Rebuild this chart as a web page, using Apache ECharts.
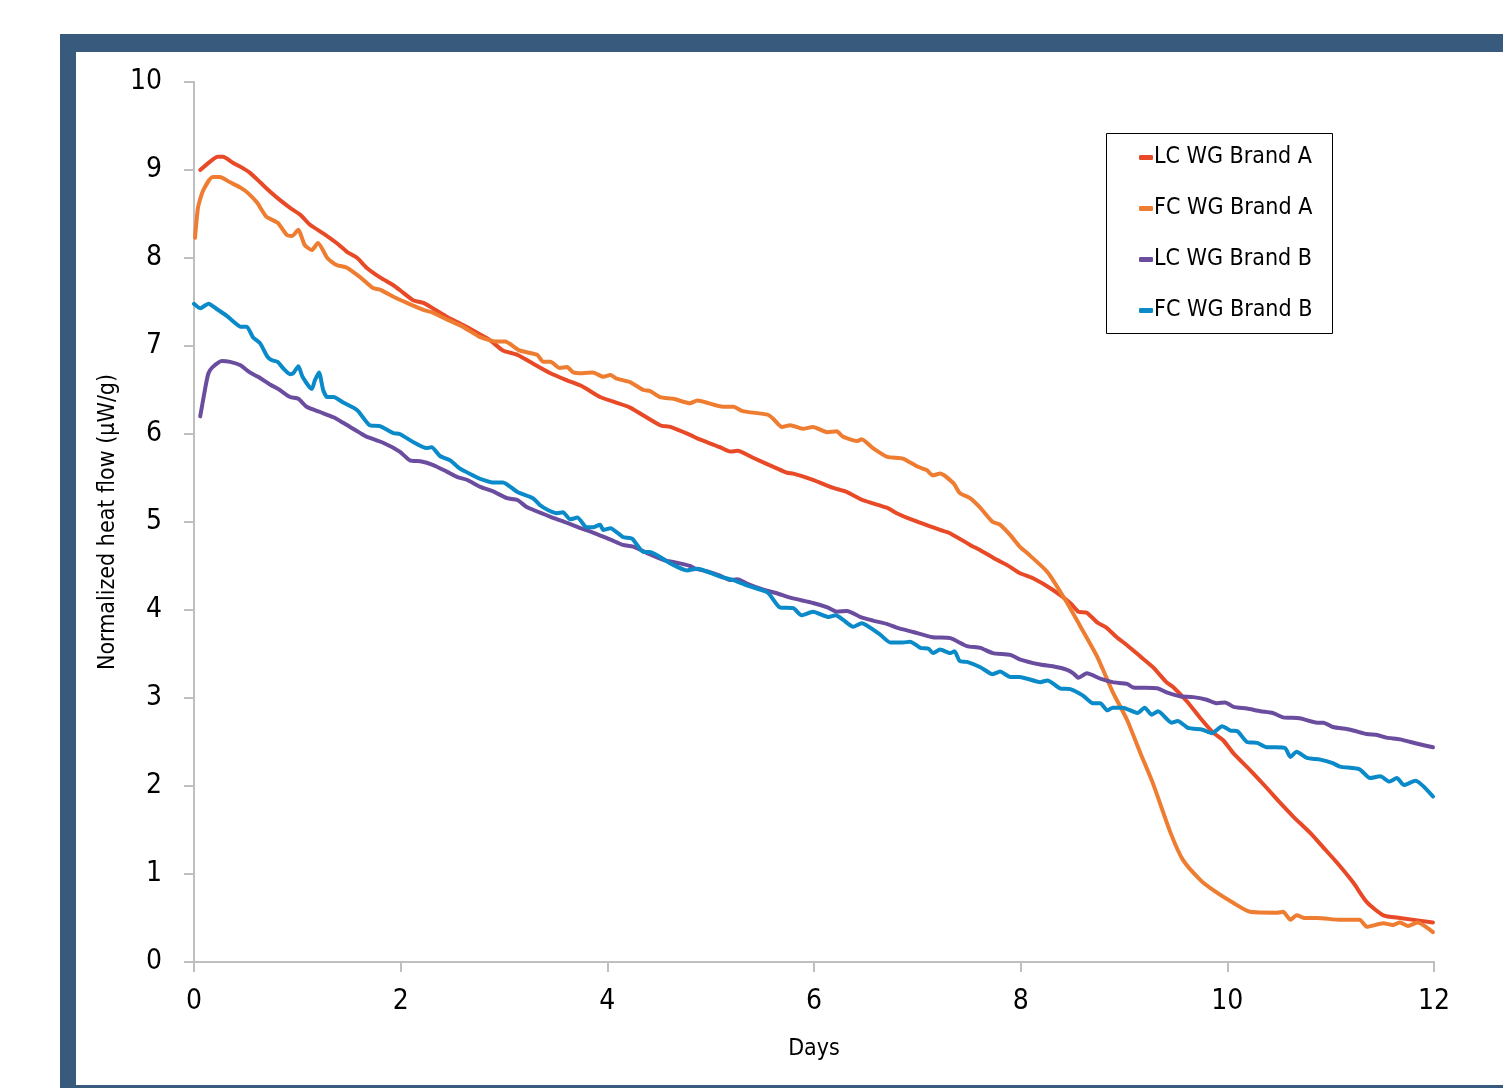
<!DOCTYPE html>
<html>
<head>
<meta charset="utf-8">
<script src="https://cdn.jsdelivr.net/npm/echarts@6/dist/echarts.min.js"></script>
<style>
  html, body { margin: 0; padding: 0; background: #fff; }
  #main { width: 1503px; height: 1088px; }
</style>
</head>
<body>
<div id="main"></div>
<script>
// series names
var seriesNames = ['LC WG Brand A', 'FC WG Brand A', 'LC WG Brand B', 'FC WG Brand B'];

// [day, normalized heat flow]
var lcBrandA = [[0.06,9.00],[0.15,9.09],[0.23,9.15],[0.28,9.15],[0.38,9.08],[0.46,9.03],[0.54,8.97],[0.64,8.86],[0.74,8.75],[0.83,8.66],[0.93,8.57],[1.03,8.49],[1.12,8.38],[1.25,8.28],[1.38,8.17],[1.48,8.07],[1.58,8.00],[1.67,7.89],[1.80,7.78],[1.93,7.69],[2.02,7.61],[2.12,7.52],[2.22,7.49],[2.31,7.43],[2.45,7.33],[2.60,7.24],[2.74,7.15],[2.86,7.07],[2.99,6.95],[3.13,6.90],[3.25,6.82],[3.45,6.69],[3.61,6.61],[3.76,6.54],[3.93,6.42],[4.05,6.37],[4.22,6.30],[4.51,6.10],[4.61,6.08],[4.80,5.99],[4.87,5.95],[5.09,5.85],[5.19,5.80],[5.26,5.81],[5.41,5.73],[5.64,5.61],[5.74,5.56],[5.80,5.55],[5.99,5.48],[6.18,5.39],[6.32,5.34],[6.47,5.25],[6.71,5.16],[6.80,5.10],[6.96,5.02],[7.22,4.91],[7.32,4.87],[7.51,4.74],[7.61,4.68],[7.77,4.57],[7.87,4.51],[7.99,4.42],[8.12,4.36],[8.31,4.23],[8.48,4.08],[8.56,3.98],[8.64,3.97],[8.74,3.86],[8.83,3.80],[8.93,3.69],[9.03,3.60],[9.16,3.47],[9.28,3.35],[9.41,3.18],[9.47,3.13],[9.61,2.96],[9.74,2.77],[9.86,2.61],[9.96,2.52],[10.06,2.37],[10.22,2.18],[10.38,1.98],[10.51,1.81],[10.64,1.65],[10.80,1.47],[10.93,1.30],[11.06,1.13],[11.22,0.90],[11.35,0.68],[11.51,0.53],[11.67,0.50],[11.99,0.45]];

var fcBrandA = [[0.01,8.23],[0.04,8.58],[0.09,8.77],[0.18,8.92],[0.25,8.92],[0.35,8.86],[0.45,8.80],[0.52,8.74],[0.61,8.63],[0.70,8.47],[0.81,8.40],[0.90,8.26],[0.95,8.25],[1.01,8.32],[1.07,8.15],[1.14,8.09],[1.20,8.17],[1.29,8.00],[1.38,7.92],[1.48,7.89],[1.61,7.78],[1.73,7.66],[1.80,7.64],[1.93,7.56],[2.06,7.49],[2.22,7.41],[2.31,7.38],[2.45,7.30],[2.60,7.22],[2.77,7.10],[2.93,7.05],[3.01,7.05],[3.15,6.95],[3.32,6.90],[3.38,6.82],[3.45,6.82],[3.54,6.75],[3.61,6.76],[3.67,6.70],[3.76,6.69],[3.86,6.70],[3.96,6.65],[4.03,6.67],[4.09,6.63],[4.22,6.59],[4.35,6.50],[4.41,6.49],[4.51,6.42],[4.64,6.40],[4.80,6.35],[4.87,6.38],[5.12,6.31],[5.22,6.31],[5.31,6.26],[5.55,6.22],[5.60,6.18],[5.69,6.08],[5.77,6.10],[5.89,6.06],[5.99,6.08],[6.13,6.02],[6.22,6.03],[6.28,5.97],[6.42,5.92],[6.46,5.94],[6.57,5.84],[6.71,5.74],[6.86,5.72],[7.00,5.63],[7.09,5.59],[7.15,5.53],[7.22,5.55],[7.35,5.44],[7.41,5.33],[7.51,5.27],[7.61,5.16],[7.73,5.00],[7.80,4.97],[7.90,4.85],[7.99,4.72],[8.06,4.65],[8.26,4.43],[8.45,4.08],[8.57,3.83],[8.74,3.47],[8.89,3.07],[9.03,2.75],[9.16,2.37],[9.28,2.03],[9.45,1.47],[9.57,1.16],[9.74,0.93],[9.86,0.82],[10.06,0.67],[10.22,0.57],[10.48,0.56],[10.54,0.57],[10.61,0.48],[10.67,0.53],[10.75,0.50],[10.87,0.50],[11.09,0.48],[11.28,0.48],[11.35,0.40],[11.51,0.44],[11.60,0.42],[11.67,0.45],[11.75,0.41],[11.84,0.45],[11.99,0.34]];

var lcBrandB = [[0.06,6.20],[0.11,6.53],[0.14,6.69],[0.18,6.76],[0.27,6.83],[0.35,6.82],[0.45,6.78],[0.54,6.70],[0.62,6.65],[0.74,6.56],[0.83,6.50],[0.93,6.42],[1.01,6.40],[1.09,6.31],[1.22,6.25],[1.35,6.19],[1.44,6.13],[1.51,6.08],[1.61,6.01],[1.67,5.97],[1.83,5.90],[1.99,5.80],[2.09,5.70],[2.19,5.69],[2.31,5.65],[2.45,5.57],[2.55,5.51],[2.64,5.48],[2.77,5.40],[2.89,5.35],[3.03,5.27],[3.13,5.25],[3.22,5.17],[3.47,5.05],[3.61,4.99],[3.74,4.93],[3.86,4.88],[4.03,4.80],[4.15,4.74],[4.25,4.72],[4.38,4.65],[4.54,4.57],[4.70,4.53],[4.80,4.50],[4.85,4.47],[4.96,4.44],[5.09,4.39],[5.19,4.34],[5.26,4.35],[5.35,4.30],[5.51,4.23],[5.64,4.19],[5.77,4.14],[5.99,4.08],[6.13,4.03],[6.22,3.98],[6.32,3.99],[6.45,3.92],[6.57,3.88],[6.71,3.84],[6.80,3.80],[6.96,3.75],[7.15,3.69],[7.32,3.68],[7.48,3.59],[7.61,3.57],[7.73,3.51],[7.90,3.49],[7.99,3.44],[8.19,3.38],[8.31,3.36],[8.45,3.32],[8.51,3.28],[8.56,3.23],[8.64,3.28],[8.77,3.22],[8.89,3.18],[9.03,3.16],[9.09,3.12],[9.32,3.11],[9.42,3.06],[9.54,3.02],[9.67,3.01],[9.80,2.98],[9.90,2.94],[9.98,2.95],[10.06,2.90],[10.19,2.88],[10.32,2.85],[10.44,2.83],[10.54,2.78],[10.70,2.77],[10.87,2.72],[10.93,2.72],[11.02,2.67],[11.19,2.64],[11.35,2.59],[11.45,2.58],[11.54,2.55],[11.67,2.53],[11.84,2.48],[11.99,2.44]];

var fcBrandB = [[0.00,7.48],[0.06,7.43],[0.14,7.48],[0.22,7.42],[0.32,7.34],[0.40,7.26],[0.45,7.22],[0.51,7.22],[0.57,7.10],[0.64,7.03],[0.71,6.88],[0.75,6.84],[0.81,6.82],[0.86,6.75],[0.93,6.68],[0.96,6.69],[1.01,6.77],[1.05,6.65],[1.14,6.51],[1.17,6.61],[1.21,6.70],[1.25,6.50],[1.29,6.42],[1.35,6.42],[1.44,6.36],[1.58,6.27],[1.70,6.10],[1.80,6.09],[1.93,6.01],[1.99,6.00],[2.12,5.91],[2.25,5.84],[2.30,5.85],[2.38,5.75],[2.48,5.70],[2.57,5.61],[2.70,5.53],[2.77,5.49],[2.89,5.45],[2.99,5.45],[3.13,5.34],[3.28,5.27],[3.35,5.19],[3.42,5.14],[3.51,5.10],[3.57,5.11],[3.64,5.03],[3.71,5.05],[3.80,4.94],[3.86,4.94],[3.93,4.97],[3.96,4.91],[4.03,4.93],[4.15,4.83],[4.24,4.81],[4.35,4.66],[4.41,4.66],[4.61,4.53],[4.77,4.45],[4.87,4.47],[5.09,4.38],[5.22,4.34],[5.35,4.28],[5.55,4.20],[5.67,4.03],[5.80,4.02],[5.88,3.94],[5.99,3.98],[6.14,3.92],[6.21,3.94],[6.28,3.89],[6.38,3.81],[6.46,3.85],[6.64,3.72],[6.74,3.63],[6.86,3.63],[6.93,3.64],[7.03,3.57],[7.11,3.56],[7.15,3.51],[7.22,3.55],[7.32,3.51],[7.36,3.53],[7.41,3.42],[7.48,3.41],[7.61,3.35],[7.73,3.27],[7.80,3.30],[7.90,3.24],[7.99,3.24],[8.19,3.18],[8.26,3.20],[8.38,3.11],[8.48,3.10],[8.60,3.03],[8.70,2.94],[8.77,2.94],[8.84,2.86],[8.89,2.89],[8.99,2.89],[9.13,2.83],[9.20,2.89],[9.27,2.81],[9.33,2.85],[9.46,2.72],[9.52,2.74],[9.62,2.66],[9.76,2.64],[9.85,2.60],[9.95,2.68],[10.03,2.63],[10.10,2.62],[10.19,2.50],[10.29,2.49],[10.38,2.44],[10.47,2.44],[10.56,2.43],[10.61,2.33],[10.67,2.39],[10.77,2.32],[10.90,2.30],[11.02,2.26],[11.09,2.22],[11.28,2.19],[11.38,2.09],[11.48,2.11],[11.57,2.05],[11.64,2.09],[11.71,2.01],[11.82,2.06],[11.99,1.88]];

var colors = ['#E84A27', '#EE7D31', '#6B4DA0', '#0A8AC8'];
var font = "'Liberation Sans Narrow', 'DejaVu Sans Condensed', 'Roboto', sans-serif";
var frame = '#385a7c';

var myChart = echarts.init(document.getElementById('main'));

function mkSeries(i, data) {
    return {
        name: seriesNames[i],
        type: 'line',
        data: data,
        showSymbol: false,
        smooth: 0.2,
        lineStyle: { width: 4, color: colors[i], cap: 'round', join: 'round' },
        itemStyle: { color: colors[i] }
    };
}

var option = {
    backgroundColor: '#fff',
    animation: false,
    textStyle: { fontFamily: font },
    grid: { left: 194, right: 69, top: 82, bottom: 126, containLabel: false },
    legend: {
        orient: 'vertical',
        left: 1139,
        top: 146,
        padding: 0,
        itemGap: 28,
        itemWidth: 14,
        itemHeight: 5,
        icon: 'roundRect',
        textStyle: { fontSize: 23, lineHeight: 22, color: '#000', fontFamily: font, padding: [0, 0, 0, -4] },
        data: seriesNames
    },
    xAxis: {
        type: 'value',
        min: 0,
        max: 12,
        interval: 2,
        name: 'Days',
        nameLocation: 'middle',
        nameGap: 76,
        nameTextStyle: { fontSize: 23, color: '#000', fontFamily: font },
        axisLine: { show: true, lineStyle: { color: '#bfbfbf', width: 2 } },
        axisTick: { show: true, length: 10, lineStyle: { color: '#bfbfbf', width: 2 } },
        axisLabel: { fontSize: 28, color: '#000', margin: 26, fontFamily: font },
        splitLine: { show: false }
    },
    yAxis: {
        type: 'value',
        min: 0,
        max: 10,
        interval: 1,
        name: 'Normalized heat flow (µW/g)',
        nameLocation: 'middle',
        nameGap: 68,
        nameTextStyle: { fontSize: 23, color: '#000', fontFamily: font },
        axisLine: { show: true, lineStyle: { color: '#bfbfbf', width: 2 } },
        axisTick: { show: true, length: 10, lineStyle: { color: '#bfbfbf', width: 2 } },
        axisLabel: { fontSize: 28, color: '#000', margin: 32, fontFamily: font },
        splitLine: { show: false }
    },
    graphic: [
        { type: 'rect', shape: { x: 60, y: 34, width: 1443, height: 18 }, style: { fill: frame }, silent: true },
        { type: 'rect', shape: { x: 60, y: 34, width: 16, height: 1054 }, style: { fill: frame }, silent: true },
        { type: 'rect', shape: { x: 60, y: 1085, width: 1443, height: 3 }, style: { fill: frame }, silent: true },
        { type: 'rect', shape: { x: 1106.5, y: 133.5, width: 226, height: 200 }, style: { fill: 'none', stroke: '#000', lineWidth: 1 }, silent: true }
    ],
    series: [
        mkSeries(0, lcBrandA),
        mkSeries(1, fcBrandA),
        mkSeries(2, lcBrandB),
        mkSeries(3, fcBrandB)
    ]
};

myChart.setOption(option);
</script>
</body>
</html>
